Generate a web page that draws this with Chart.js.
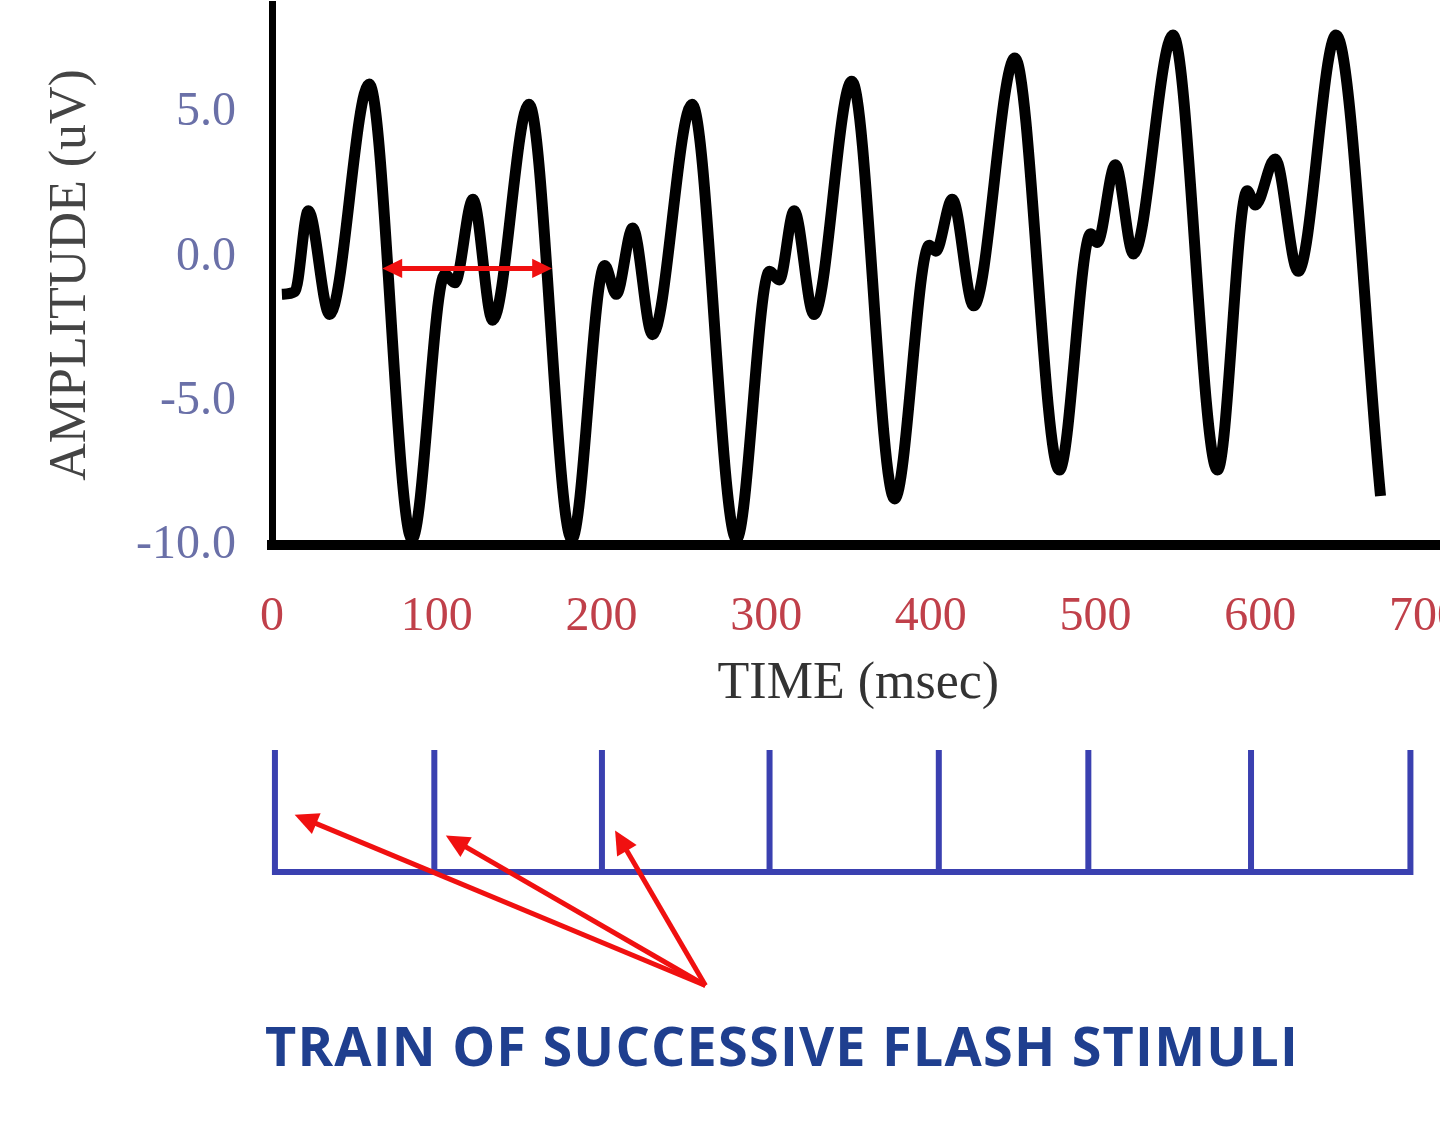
<!DOCTYPE html>
<html><head><meta charset="utf-8">
<script src="https://cdn.jsdelivr.net/npm/chart.js@4"></script>
<style>
body{margin:0;background:#fff;width:1440px;height:1124px;overflow:hidden;position:relative}
#c1{position:absolute;left:0;top:-60px}
#c2{position:absolute;left:0;top:720px}
#t{position:absolute;left:265px;top:1008px;font:bold 54px "Open Sans",sans-serif;color:#1f3f8f;letter-spacing:1.2px;white-space:nowrap}
</style></head><body>
<canvas id="c1" width="1505" height="780"></canvas>
<canvas id="c2" width="1440" height="320"></canvas>
<div id="t">TRAIN OF SUCCESSIVE FLASH STIMULI</div>
<script>
const timeMs=[6,14,22,35,59,85,105,111,122,134,156,182,202,209,219,231,255,282,302,308,317,329,352,378,399,403,413,426,451,478,497,501,512,523,547,574,592,597,609,623,646,673];
const amplitude=[-1.3,-1.2,1.6,-2.0,6.0,-9.8,-0.6,-0.9,2.0,-2.2,5.3,-9.8,-0.3,-1.3,1.0,-2.7,5.3,-9.8,-0.5,-0.8,1.6,-2.0,6.1,-8.4,0.4,0.2,2.0,-1.7,6.9,-7.4,0.8,0.5,3.2,0.1,7.7,-7.4,2.3,1.8,3.4,-0.5,7.7,-8.3];
const yTicks=[-10,-5,0,5];
const xTicks=[0,100,200,300,400,500,600,700];
const stimulusTimes=[3,100,202,304,407,498,597,694];
const periodArrow={from:67,to:170,y:-0.4};
const stimArrows={tail:[265,-0.93],heads:[[15,0.47],[107,0.30],[210,0.34]]};
const X_MAX=712;

function arrowHead(ctx,x1,y1,x2,y2,size){
  const a=Math.atan2(y2-y1,x2-x1);
  ctx.beginPath();ctx.moveTo(x2,y2);
  ctx.lineTo(x2-size*Math.cos(a-0.45),y2-size*Math.sin(a-0.45));
  ctx.lineTo(x2-size*Math.cos(a+0.45),y2-size*Math.sin(a+0.45));
  ctx.closePath();ctx.fill();
}
const serif='"Liberation Serif","DejaVu Serif",serif';
new Chart(document.getElementById('c1'),{
  type:'line',
  data:{datasets:[{data:timeMs.map((t,i)=>({x:t,y:amplitude[i]})),borderColor:'#000',borderWidth:11,pointRadius:0,cubicInterpolationMode:'monotone',fill:false}]},
  options:{responsive:false,animation:false,layout:{padding:0},
    plugins:{legend:{display:false},tooltip:{enabled:false}},
    scales:{
      x:{type:'linear',min:0,max:X_MAX,afterBuildTicks:s=>{s.ticks=xTicks.map(v=>({value:v}))},
        afterFit:s=>{s.height=175},
        grid:{display:false,drawTicks:false},border:{color:'#000',width:10},
        ticks:{color:'#c0404a',font:{family:serif,size:48},padding:44,maxRotation:0,autoSkip:false},
        title:{display:true,text:'TIME (msec)',color:'#333',font:{family:serif,size:52},padding:{top:0}}},
      y:{min:-10,max:8.75,afterBuildTicks:s=>{s.ticks=yTicks.map(v=>({value:v}))},
        afterFit:s=>{s.width=272},
        grid:{display:false,drawTicks:false},border:{color:'#000',width:7},
        ticks:{color:'#6a70a8',font:{family:serif,size:48},padding:36,callback:v=>v.toFixed(1)},
        title:{display:true,text:'AMPLITUDE (uV)',color:'#444',font:{family:serif,size:52},padding:{top:40,bottom:10}}}
    }},
  plugins:[{id:'dbl',afterDatasetsDraw(c){
    const ctx=c.ctx,xs=c.scales.x,ys=c.scales.y;
    const x1=xs.getPixelForValue(periodArrow.from),x2=xs.getPixelForValue(periodArrow.to),y=ys.getPixelForValue(periodArrow.y);
    ctx.save();ctx.strokeStyle='#f01010';ctx.fillStyle='#f01010';ctx.lineWidth=5;
    ctx.beginPath();ctx.moveTo(x1+10,y);ctx.lineTo(x2-10,y);ctx.stroke();
    arrowHead(ctx,x2,y,x1,y,22);arrowHead(ctx,x1,y,x2,y,22);ctx.restore();
  }}]
});
const stimData=[];
stimulusTimes.forEach(t=>{stimData.push({x:t,y:0},{x:t,y:1},{x:t,y:0});});
new Chart(document.getElementById('c2'),{
  type:'line',
  data:{datasets:[{data:stimData,borderColor:'#3a40b0',borderWidth:6,pointRadius:0,tension:0,fill:false}]},
  options:{responsive:false,animation:false,layout:{padding:{left:270,right:0,top:0,bottom:0}},
    plugins:{legend:{display:false},tooltip:{enabled:false}},
    scales:{x:{type:'linear',min:0,max:X_MAX,display:false},y:{min:-1.377,max:1.246,display:false}}},
  plugins:[{id:'arr',afterDatasetsDraw(c){
    const ctx=c.ctx,xs=c.scales.x,ys=c.scales.y;
    const tx=xs.getPixelForValue(stimArrows.tail[0]),ty=ys.getPixelForValue(stimArrows.tail[1]);
    ctx.save();ctx.strokeStyle='#f01010';ctx.fillStyle='#f01010';ctx.lineWidth=5;
    stimArrows.heads.forEach(h=>{
      const hx=xs.getPixelForValue(h[0]),hy=ys.getPixelForValue(h[1]);
      const a=Math.atan2(hy-ty,hx-tx);
      ctx.beginPath();ctx.moveTo(tx,ty);ctx.lineTo(hx-15*Math.cos(a),hy-15*Math.sin(a));ctx.stroke();
      arrowHead(ctx,tx,ty,hx,hy,26);
    });
    ctx.restore();
  }}]
});
</script></body></html>
